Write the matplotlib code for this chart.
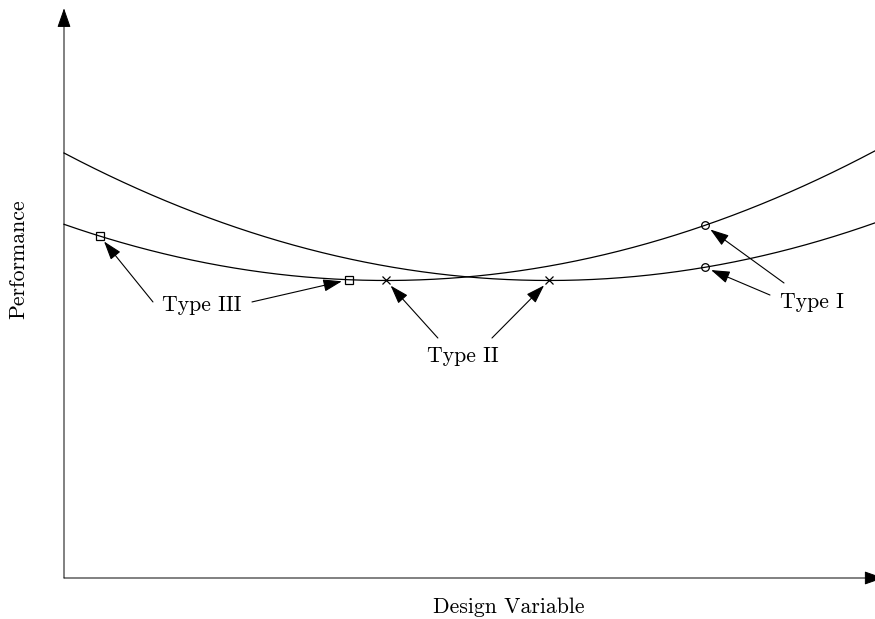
import numpy as np
import matplotlib
matplotlib.use("Agg")
import matplotlib.pyplot as plt

plt.rcParams["font.family"] = ["cmr10", "DejaVu Serif"]
plt.rcParams["axes.unicode_minus"] = False

# Two identical performance curves, shifted along the design variable
curve_names = ["A", "B"]
vertex_x = [0.598, 0.397]      # design variable at each curve's minimum
vertex_y = [0.5238, 0.5238]    # performance at the minimum
curvature = 0.6276

# Marked points: (curve index, design variable)
type1_curve = [1, 0]
type1_x = [0.79, 0.79]
type2_curve = [0, 1]
type2_x = vertex_x
type3_curve = [1, 1]
type3_x = [0.044, 0.351]


def perf(i, x):
    x = np.asarray(x, dtype=float)
    return vertex_y[i] + curvature * (x - vertex_x[i]) ** 2


fig = plt.figure(figsize=(8.75, 6.19), dpi=100)
ax = fig.add_axes([64 / 875, 41 / 619, 811 / 875, 568 / 619])
ax.set_xlim(0, 1)
ax.set_ylim(0, 1)
for s in ax.spines.values():
    s.set_visible(False)
ax.set_xticks([])
ax.set_yticks([])

# Axes drawn as arrows
axis_arrow = dict(arrowstyle="-|>,head_length=1.2,head_width=0.42",
                  color="black", lw=0.7, shrinkA=0, shrinkB=0)
ax.annotate("", xy=(0, 1.003), xytext=(0, 0), xycoords="axes fraction",
            arrowprops=axis_arrow, annotation_clip=False)
ax.annotate("", xy=(1.0105, 0), xytext=(0, 0), xycoords="axes fraction",
            arrowprops=axis_arrow, annotation_clip=False)

xs = np.linspace(0, 1, 400)
for i in range(len(curve_names)):
    ax.plot(xs, perf(i, xs), color="black", lw=0.9, clip_on=False)

mk = dict(color="black", mfc="none", mew=0.9, ms=5.5, ls="none", zorder=3)
p1 = [(x, perf(c, x)) for c, x in zip(type1_curve, type1_x)]
p2 = [(x, perf(c, x)) for c, x in zip(type2_curve, type2_x)]
p3 = [(x, perf(c, x)) for c, x in zip(type3_curve, type3_x)]
ax.plot(*zip(*p1), marker="o", **mk)
ax.plot(*zip(*p2), marker="x", **mk)
ax.plot(*zip(*p3), marker="s", **mk)

fs = 15.7
ptr = dict(arrowstyle="-|>,head_length=1.15,head_width=0.38",
           color="black", lw=0.8, shrinkA=0, shrinkB=5)

ax.text(0.170, 0.481, "Type III", fontsize=fs, ha="center", va="center")
ax.annotate("", xy=p3[0], xytext=(0.1097, 0.486), arrowprops=ptr)
ax.annotate("", xy=p3[1], xytext=(0.2318, 0.486), arrowprops=ptr)

ax.text(0.492, 0.391, "Type II", fontsize=fs, ha="center", va="center")
ax.annotate("", xy=p2[1], xytext=(0.461, 0.4225), arrowprops=ptr)
ax.annotate("", xy=p2[0], xytext=(0.5277, 0.4225), arrowprops=ptr)

ax.text(0.922, 0.486, "Type I", fontsize=fs, ha="center", va="center")
ax.annotate("", xy=p1[0], xytext=(0.8878, 0.5194), arrowprops=ptr)
ax.annotate("", xy=p1[1], xytext=(0.8705, 0.4982), arrowprops=ptr)

fig.text(509 / 875, 1 - 607 / 619, "Design Variable", fontsize=fs,
         ha="center", va="center")
fig.text(18 / 875, 1 - 259 / 619, "Performance", fontsize=fs,
         ha="center", va="center", rotation=90)

fig.savefig("out.png", dpi=100)
